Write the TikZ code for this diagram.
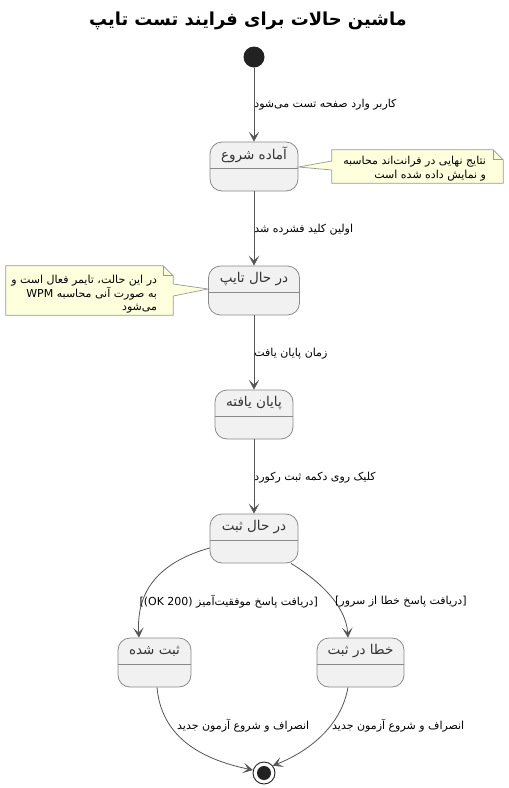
\documentclass[tikz,border=0pt]{standalone}
\usepackage{fontspec}
\setmainfont{DejaVu Sans}
\newfontfamily\fa[Script=Arabic]{DejaVu Sans}
\TeXXeTstate=1
\usetikzlibrary{arrows.meta,calc}
\definecolor{statefill}{HTML}{F1F1F1}
\definecolor{stateborder}{HTML}{8A8A8A}
\definecolor{statetext}{HTML}{333333}
\definecolor{arrowc}{HTML}{555555}
\definecolor{notefill}{HTML}{FEFFDD}
\definecolor{noteborder}{HTML}{999999}
\definecolor{dotc}{HTML}{222222}
\newcommand{\rtl}[1]{{\fa\beginR #1\endR}}
\begin{document}
\begin{tikzpicture}[x=1pt,y=-1pt,
  statebox/.style={draw=stateborder, fill=statefill, rounded corners=12pt, line width=0.8pt, inner sep=0pt, minimum height=49pt},
  sname/.style={text=statetext, font=\fontsize{13.5}{16}\selectfont, inner sep=0pt},
  divider/.style={draw=stateborder, line width=0.8pt},
  trans/.style={draw=arrowc, line width=0.8pt, -{Stealth[length=10pt,width=10.5pt,inset=5pt]}},
  lbl/.style={font=\fontsize{11}{13}\selectfont, inner sep=0pt, text=black},
  notebox/.style={inner sep=0pt},
  noteline/.style={draw=noteborder, fill=notefill, line width=0.7pt},
  notetext/.style={font=\fontsize{11}{13.5}\selectfont, align=right, inner sep=0pt}
]
\useasboundingbox (0,0) rectangle (509,788);
\fill[white] (0,0) rectangle (509,788);

% title
\node[font=\fontsize{17.9}{20}\selectfont\bfseries] (title) at (248,21) {\rtl{ماشین حالات برای فرایند تست تایپ}};

% initial and final
\node[circle, fill=dotc, minimum size=21pt, inner sep=0pt] (init) at (254,57) {};
\node[circle, draw=dotc, fill=white, line width=0.9pt, minimum size=22pt, inner sep=0pt] (fin) at (264,773) {};
\node[circle, fill=dotc, minimum size=14pt, inner sep=0pt] (finin) at (fin) {};

% states
\node[statebox, minimum width=88pt] (s1) at (254,166.5) {};
\node[statebox, minimum width=91pt] (s2) at (254,290.5) {};
\node[statebox, minimum width=78pt] (s3) at (254,414.5) {};
\node[statebox, minimum width=88pt] (s4) at (254,538.5) {};
\node[statebox, minimum width=73pt] (s5) at (154.5,662.5) {};
\node[statebox, minimum width=87pt] (s6) at (360.5,662.5) {};
\foreach \s in {s1,s2,s3,s4,s5,s6}{
  \draw[divider] ([yshift=-2pt]\s.west) -- ([yshift=-2pt]\s.east);
}
\node[sname] (s1t) at ([yshift=11.5pt]s1.center) {\rtl{آماده شروع}};
\node[sname] (s2t) at ([yshift=11.5pt]s2.center) {\rtl{در حال تایپ}};
\node[sname] (s3t) at ([yshift=11.5pt]s3.center) {\rtl{پایان یافته}};
\node[sname] (s4t) at ([yshift=11.5pt]s4.center) {\rtl{در حال ثبت}};
\node[sname] (s5t) at ([yshift=11.5pt]s5.center) {\rtl{ثبت شده}};
\node[sname] (s6t) at ([yshift=11.5pt]s6.center) {\rtl{خطا در ثبت}};

% straight transitions
\draw[trans] (init) -- (s1) node[lbl, midway, anchor=west] (l1) {\rtl{کاربر وارد صفحه تست می‌شود}};
\draw[trans] (s1) -- (s2) node[lbl, midway, anchor=west, yshift=-1pt] (l2) {\rtl{اولین کلید فشرده شد}};
\draw[trans] (s2) -- (s3) node[lbl, midway, anchor=west, yshift=-1pt] (l3) {\rtl{زمان پایان یافت}};
\draw[trans] (s3) -- (s4) node[lbl, midway, anchor=west, yshift=-1.5pt] (l4) {\rtl{کلیک روی دکمه ثبت رکورد}};

% curved transitions
\draw[trans] ([yshift=-9.5pt]s4.west) .. controls (160,562) and (136,590) .. ([xshift=-15.5pt]s5.north);
\draw[trans] ([xshift=37pt]s4.south) .. controls (318,580) and (346,605) .. ([xshift=-12.5pt]s6.north);
\draw[trans] ([xshift=2.5pt]s5.south) .. controls (162,745) and (215,762) .. (fin.165);
\draw[trans] ([xshift=-12.5pt]s6.south) .. controls (340,732) and (300,755) .. (fin.40);

\node[lbl, anchor=east] (l5) at (318,601.5) {[(OK 200) \rtl{دریافت پاسخ موفقیت‌آمیز}]};
\node[lbl, anchor=west] (l6) at (335,601.5) {[\rtl{دریافت پاسخ خطا از سرور}]};
\node[lbl, anchor=west] (l7) at (177,725.5) {\rtl{انصراف و شروع آزمون جدید}};
\node[lbl, anchor=west] (l8) at (332,725.5) {\rtl{انصراف و شروع آزمون جدید}};

% note 1
\node[notebox, minimum width=171pt, minimum height=33pt] (n1) at (417.5,166.5) {};
\draw[noteline] (n1.north west) -- ([xshift=-10pt]n1.north east) -- ([yshift=-10pt]n1.north east)
  -- (n1.south east) -- (n1.south west) -- ([yshift=-3.5pt]n1.west) -- ([yshift=-0.5pt]s1.east)
  -- ([yshift=5.5pt]n1.west) -- cycle;
\draw[draw=noteborder, line width=0.7pt] ([xshift=-10pt]n1.north east) -- ++(0,10) -- ([yshift=-10pt]n1.north east);
\node[notetext, anchor=east] (n1t) at ([xshift=-17pt,yshift=-2pt]n1.east) {\rtl{نتایج نهایی در فرانت‌اند محاسبه}\\ \rtl{و نمایش داده شده است}};

% note 2
\node[notebox, minimum width=167pt, minimum height=49pt] (n2) at (89.5,290.5) {};
\draw[noteline] (n2.north west) -- ([xshift=-10pt]n2.north east) -- ([yshift=-10pt]n2.north east)
  -- ([yshift=6.5pt]n2.east) -- ([yshift=1.5pt]s2.west) -- ([yshift=-5.5pt]n2.east)
  -- (n2.south east) -- (n2.south west) -- cycle;
\draw[draw=noteborder, line width=0.7pt] ([xshift=-10pt]n2.north east) -- ++(0,10) -- ([yshift=-10pt]n2.north east);
\node[notetext, anchor=east] (n2t) at ([xshift=-16pt,yshift=-4pt]n2.east) {\rtl{در این حالت، تایمر فعال است و}\\ \rtl{به صورت آنی محاسبه \beginL WPM\endL}\\ \rtl{می‌شود}};
\end{tikzpicture}
\end{document}
